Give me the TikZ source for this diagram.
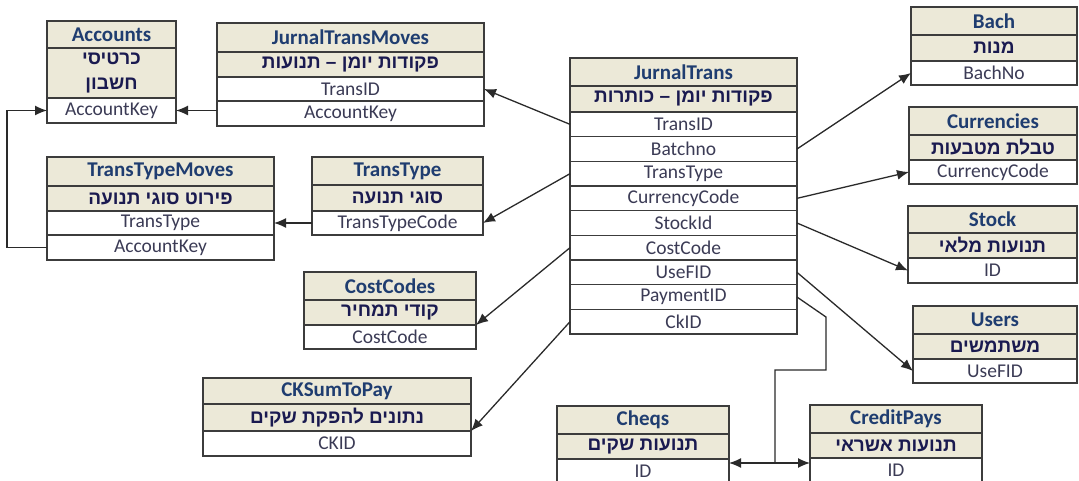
\documentclass[tikz,border=0pt]{standalone}
\usepackage{fontspec}
\setmainfont{Carlito}
\newfontfamily\hebfont[Script=Hebrew]{Liberation Sans}
\TeXXeTstate=1
\usetikzlibrary{arrows.meta}
\definecolor{hdrfill}{HTML}{ECE9D8}
\definecolor{boxline}{HTML}{3C3C3C}
\definecolor{ttlcol}{HTML}{1F3D70}
\definecolor{hebcol}{HTML}{1A1A50}
\definecolor{fldcol}{HTML}{3B3B55}
\definecolor{linkcol}{HTML}{2A2A2A}
\newcommand{\hb}[1]{{\hebfont\bfseries\beginR #1\endR}}
\tikzset{
    fk/.tip={Latex[length=12pt,width=10pt]},
    cell/.style={draw=boxline, line width=1.2pt, inner sep=0pt, outer sep=0pt, anchor=north},
    ttl/.style={cell, fill=hdrfill, text=ttlcol, font=\bfseries\fontsize{21}{23}\selectfont},
    hrow/.style={cell, fill=hdrfill, text=hebcol, font=\fontsize{19}{25}\selectfont, align=center},
    fld/.style={cell, fill=white, text=fldcol, font=\fontsize{19.5}{22}\selectfont},
    link/.style={draw=linkcol, line width=1.3pt, -fk},
}
\begin{document}
\begin{tikzpicture}[x=1pt, y=-1pt]
        \useasboundingbox (0,0) rectangle (1079,481);
        % Accounts
        \begin{scope}[nodes={minimum width=129pt}]
        \node [ttl, minimum height=27pt] (acc) at (111.5,21) {Accounts};
        \node [hrow, minimum height=50pt] (acc-h) at (acc.south) {\hb{כרטיסי}\\\hb{חשבון}};
        \node [fld, minimum height=25pt] (acc-key) at (acc-h.south) {AccountKey};
        \end{scope}
        % JurnalTransMoves
        \begin{scope}[nodes={minimum width=267pt}]
        \node [ttl, minimum height=29pt] (jtm) at (350.5,23) {JurnalTransMoves};
        \node [hrow, minimum height=25pt] (jtm-h) at (jtm.south) {\hb{פקודות יומן – תנועות}};
        \node [fld, minimum height=24pt] (jtm-id) at (jtm-h.south) {TransID};
        \node [fld, minimum height=25pt] (jtm-key) at (jtm-id.south) {AccountKey};
        \end{scope}
        % TransTypeMoves
        \begin{scope}[nodes={minimum width=227pt}]
        \node [ttl, minimum height=29pt] (ttm) at (160.5,157) {TransTypeMoves};
        \node [hrow, minimum height=25pt] (ttm-h) at (ttm.south) {\hb{פירוט סוגי תנועה}};
        \node [fld, minimum height=24pt] (ttm-tt) at (ttm-h.south) {TransType};
        \node [fld, minimum height=25pt] (ttm-key) at (ttm-tt.south) {AccountKey};
        \end{scope}
        % TransType
        \begin{scope}[nodes={minimum width=171pt}]
        \node [ttl, minimum height=28pt] (tt) at (397.5,157) {TransType};
        \node [hrow, minimum height=26pt] (tt-h) at (tt.south) {\hb{סוגי תנועה}};
        \node [fld, minimum height=24pt] (tt-code) at (tt-h.south) {TransTypeCode};
        \end{scope}
        % JurnalTrans
        \begin{scope}[nodes={minimum width=227pt, minimum height=24.67pt}]
        \node [ttl, minimum height=28pt] (jt) at (683.5,58) {JurnalTrans};
        \node [hrow, minimum height=26pt] (jt-h) at (jt.south) {\hb{פקודות יומן – כותרות}};
        \node [fld] (jt-id) at (jt-h.south) {TransID};
        \node [fld] (jt-batch) at (jt-id.south) {Batchno};
        \node [fld] (jt-type) at (jt-batch.south) {TransType};
        \node [fld] (jt-cur) at (jt-type.south) {CurrencyCode};
        \node [fld] (jt-stock) at (jt-cur.south) {StockId};
        \node [fld] (jt-cost) at (jt-stock.south) {CostCode};
        \node [fld] (jt-use) at (jt-cost.south) {UseFID};
        \node [fld] (jt-pay) at (jt-use.south) {PaymentID};
        \node [fld] (jt-ck) at (jt-pay.south) {CkID};
        \end{scope}
        % Bach
        \begin{scope}[nodes={minimum width=166pt}]
        \node [ttl, minimum height=28pt] (bach) at (994,7) {Bach};
        \node [hrow, minimum height=26pt] (bach-h) at (bach.south) {\hb{מנות}};
        \node [fld, minimum height=24pt] (bach-no) at (bach-h.south) {BachNo};
        \end{scope}
        % Currencies
        \begin{scope}[nodes={minimum width=168pt}]
        \node [ttl, minimum height=28pt] (cur) at (993,107) {Currencies};
        \node [hrow, minimum height=25pt] (cur-h) at (cur.south) {\hb{טבלת מטבעות}};
        \node [fld, minimum height=24pt] (cur-code) at (cur-h.south) {CurrencyCode};
        \end{scope}
        % Stock
        \begin{scope}[nodes={minimum width=169pt}]
        \node [ttl, minimum height=27pt] (st) at (992.5,206) {Stock};
        \node [hrow, minimum height=25pt] (st-h) at (st.south) {\hb{תנועות מלאי}};
        \node [fld, minimum height=25pt] (st-id) at (st-h.south) {ID};
        \end{scope}
        % Users
        \begin{scope}[nodes={minimum width=164pt}]
        \node [ttl, minimum height=28pt] (us) at (995,306) {Users};
        \node [hrow, minimum height=25pt] (us-h) at (us.south) {\hb{משתמשים}};
        \node [fld, minimum height=24pt] (us-id) at (us-h.south) {UseFID};
        \end{scope}
        % CostCodes
        \begin{scope}[nodes={minimum width=172pt}]
        \node [ttl, minimum height=28pt] (cc) at (390,272) {CostCodes};
        \node [hrow, minimum height=25pt] (cc-h) at (cc.south) {\hb{קודי תמחיר}};
        \node [fld, minimum height=24pt] (cc-code) at (cc-h.south) {CostCode};
        \end{scope}
        % CKSumToPay
        \begin{scope}[nodes={minimum width=268pt}]
        \node [ttl, minimum height=26pt] (ck) at (337,378) {CKSumToPay};
        \node [hrow, minimum height=27pt] (ck-h) at (ck.south) {\hb{נתונים להפקת שקים}};
        \node [fld, minimum height=25pt] (ck-id) at (ck-h.south) {CKID};
        \end{scope}
        % Cheqs
        \begin{scope}[nodes={minimum width=172pt}]
        \node [ttl, minimum height=28pt] (cq) at (643,406) {Cheqs};
        \node [hrow, minimum height=25pt] (cq-h) at (cq.south) {\hb{תנועות שקים}};
        \node [fld, minimum height=25pt] (cq-id) at (cq-h.south) {ID};
        \end{scope}
        % CreditPays
        \begin{scope}[nodes={minimum width=172pt}]
        \node [ttl, minimum height=28pt] (cp) at (896,405) {CreditPays};
        \node [hrow, minimum height=25pt] (cp-h) at (cp.south) {\hb{תנועות אשראי}};
        \node [fld, minimum height=25pt] (cp-id) at (cp-h.south) {ID};
        \end{scope}
        % links
        \draw [link] (jtm-key.west |- acc-key.east) -- (acc-key.east);
        \draw [link] (ttm-key.west) -- ++(-40,0) |- (acc-key.west);
        \draw [link] (tt-code.west) -- (ttm-tt.east);
        \draw [link] (jt-id.west) -- (jtm-id.east);
        \draw [link] (jt-type.west) -- (tt-code.east);
        \draw [link] (jt-cost.west) -- (cc-code.north east);
        \draw [link] (jt-ck.west) -- (ck-id.north east);
        \draw [link] (jt-batch.east) -- (bach-no.west);
        \draw [link] (jt-cur.east) -- (cur-code.west);
        \draw [link] (jt-stock.east) -- (st-id.west);
        \draw [link] (jt-use.east) -- (us-id.west);
        \coordinate (pay-split) at (775,463);
        \draw [draw=linkcol, line width=1.3pt] (jt-pay.east) -- ++(29,20) -- ++(0,53) -| (pay-split);
        \draw [link, fk-fk] (cq-id.east |- pay-split) -- (cp-id.west |- pay-split);
\end{tikzpicture}
\end{document}
